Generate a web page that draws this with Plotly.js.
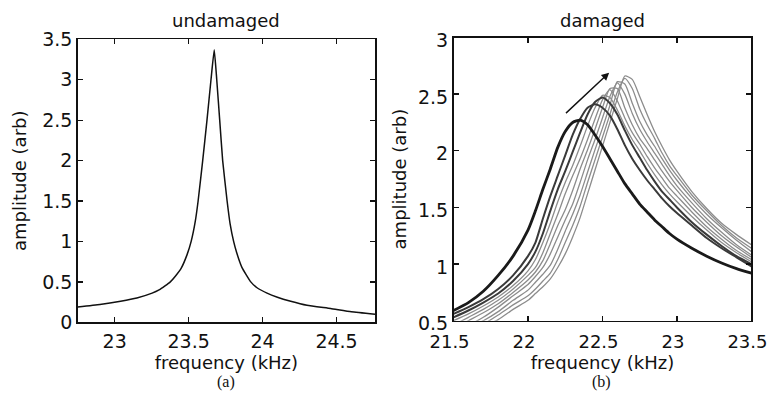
<!DOCTYPE html>
<html>
<head>
<meta charset="utf-8">
<script src="https://cdn.plot.ly/plotly-3.0.1.min.js"></script>
<style>html,body{margin:0;padding:0;background:#fff;}#chart{width:771px;height:402px;}</style>
</head>
<body>
<div id="chart"></div>
<script>
// ---- Panel (a): undamaged ----
const undamagedFreq = [22.75, 22.9, 23.04, 23.15, 23.253, 23.3, 23.34, 23.376, 23.41, 23.45, 23.49, 23.517, 23.545, 23.564, 23.595, 23.624, 23.651, 23.673, 23.69, 23.71, 23.73, 23.76, 23.78, 23.804, 23.825, 23.86, 23.92, 23.96, 24.03, 24.1, 24.19, 24.3, 24.46, 24.6, 24.76];
const undamagedAmp  = [0.19, 0.22, 0.26, 0.30, 0.36, 0.40, 0.45, 0.50, 0.57, 0.67, 0.84, 1.00, 1.25, 1.50, 2.00, 2.50, 3.00, 3.37, 3.00, 2.50, 2.00, 1.50, 1.22, 1.00, 0.86, 0.68, 0.50, 0.43, 0.36, 0.31, 0.26, 0.21, 0.17, 0.13, 0.10];

// ---- Panel (b): damaged (10 sweeps) ----
const damagedFreq = [21.5, 21.6, 21.7, 21.8, 21.9, 22.0, 22.05, 22.1, 22.15, 22.2, 22.25, 22.3, 22.35, 22.4, 22.45, 22.5, 22.55, 22.6, 22.65, 22.7, 22.75, 22.8, 22.85, 22.9, 22.95, 23.0, 23.1, 23.2, 23.3, 23.4, 23.5];
const sweep1  = [0.59, 0.66, 0.76, 0.90, 1.07, 1.30, 1.47, 1.66, 1.84, 2.03, 2.17, 2.25, 2.27, 2.23, 2.14, 2.04, 1.93, 1.82, 1.71, 1.62, 1.53, 1.46, 1.39, 1.33, 1.27, 1.22, 1.14, 1.07, 1.01, 0.96, 0.92];
const sweep2  = [0.56, 0.62, 0.69, 0.78, 0.90, 1.07, 1.19, 1.40, 1.60, 1.78, 1.96, 2.14, 2.28, 2.38, 2.41, 2.38, 2.31, 2.19, 2.05, 1.93, 1.83, 1.74, 1.66, 1.58, 1.51, 1.45, 1.34, 1.23, 1.14, 1.06, 0.98];
const sweep3  = [0.53, 0.59, 0.66, 0.74, 0.85, 1.00, 1.11, 1.27, 1.47, 1.66, 1.82, 1.99, 2.16, 2.32, 2.43, 2.47, 2.42, 2.32, 2.18, 2.05, 1.94, 1.83, 1.73, 1.64, 1.57, 1.50, 1.37, 1.26, 1.16, 1.07, 1.00];
const sweep4  = [0.50, 0.56, 0.63, 0.71, 0.81, 0.94, 1.04, 1.19, 1.36, 1.55, 1.72, 1.87, 2.04, 2.22, 2.38, 2.49, 2.47, 2.36, 2.22, 2.10, 2.00, 1.89, 1.79, 1.70, 1.62, 1.55, 1.42, 1.30, 1.19, 1.10, 1.02];
const sweep5  = [0.46, 0.53, 0.60, 0.68, 0.78, 0.90, 0.97, 1.10, 1.27, 1.44, 1.62, 1.78, 1.93, 2.10, 2.28, 2.45, 2.54, 2.44, 2.29, 2.16, 2.06, 1.95, 1.85, 1.76, 1.67, 1.60, 1.46, 1.33, 1.22, 1.12, 1.04];
const sweep6  = [0.43, 0.50, 0.57, 0.65, 0.75, 0.86, 0.93, 1.03, 1.18, 1.34, 1.48, 1.65, 1.84, 2.01, 2.19, 2.38, 2.55, 2.55, 2.38, 2.23, 2.11, 2.02, 1.92, 1.82, 1.73, 1.65, 1.50, 1.37, 1.25, 1.15, 1.06];
const sweep7  = [0.40, 0.46, 0.53, 0.62, 0.72, 0.82, 0.89, 0.97, 1.09, 1.24, 1.39, 1.53, 1.72, 1.92, 2.10, 2.29, 2.48, 2.60, 2.50, 2.33, 2.19, 2.08, 1.98, 1.88, 1.78, 1.69, 1.54, 1.40, 1.28, 1.17, 1.08];
const sweep8  = [0.38, 0.44, 0.50, 0.58, 0.68, 0.77, 0.84, 0.91, 0.99, 1.13, 1.29, 1.44, 1.61, 1.81, 2.01, 2.20, 2.40, 2.61, 2.59, 2.42, 2.26, 2.14, 2.04, 1.93, 1.83, 1.74, 1.58, 1.44, 1.32, 1.21, 1.11];
const sweep9  = [0.37, 0.42, 0.47, 0.55, 0.64, 0.72, 0.78, 0.85, 0.92, 1.04, 1.19, 1.34, 1.51, 1.72, 1.92, 2.12, 2.32, 2.52, 2.64, 2.55, 2.37, 2.23, 2.11, 1.98, 1.87, 1.78, 1.61, 1.47, 1.34, 1.23, 1.14];
const sweep10 = [0.35, 0.40, 0.45, 0.51, 0.60, 0.68, 0.74, 0.80, 0.87, 0.97, 1.09, 1.24, 1.41, 1.62, 1.83, 2.04, 2.25, 2.46, 2.66, 2.63, 2.48, 2.32, 2.17, 2.04, 1.92, 1.82, 1.64, 1.49, 1.36, 1.26, 1.17];
const sweeps = [sweep1, sweep2, sweep3, sweep4, sweep5, sweep6, sweep7, sweep8, sweep9, sweep10];

const xTicksA = [23, 23.5, 24, 24.5];
const yTicksA = [0, 0.5, 1, 1.5, 2, 2.5, 3, 3.5];
const xTicksB = [21.5, 22, 22.5, 23, 23.5];
const yTicksB = [0.5, 1, 1.5, 2, 2.5, 3];

const FONT = 'DejaVu Sans, Liberation Sans, Arial, sans-serif';
const SERIF = 'Liberation Serif, Times New Roman, serif';

const traces = [];
traces.push({x: undamagedFreq, y: undamagedAmp, xaxis: 'x', yaxis: 'y', mode: 'lines',
  line: {color: '#111', width: 1.5, shape: 'spline', smoothing: 0.4}, showlegend: false, hoverinfo: 'skip'});

const sweepStyles = sweeps.map((s, i) => {
  if (i === 0) return {color: '#1a1a1a', width: 2.8};
  if (i < 3) return {color: '#3a3a3a', width: 2.0};
  return {color: '#8c8c8c', width: 1.3};
});
const order = [9, 8, 7, 6, 5, 4, 3, 2, 1, 0];
order.forEach(i => {
  traces.push({x: damagedFreq, y: sweeps[i], xaxis: 'x2', yaxis: 'y2', mode: 'lines',
    line: Object.assign({shape: 'spline', smoothing: 0.6}, sweepStyles[i]),
    showlegend: false, hoverinfo: 'skip'});
});

function axisBase(extra) {
  return Object.assign({
    showline: true, linecolor: '#111', linewidth: 1.5, mirror: 'ticks',
    ticks: 'inside', ticklen: 5, tickwidth: 1.3, tickcolor: '#111',
    showgrid: false, zeroline: false, tickmode: 'array', ticklabeloverflow: 'allow',
    tickfont: {family: FONT, size: 19, color: '#111'}
  }, extra);
}
const titleFont = {family: FONT, size: 18, color: '#111'};

const layout = {
  width: 771, height: 402,
  margin: {l: 0, r: 0, t: 0, b: 0},
  paper_bgcolor: '#fff', plot_bgcolor: '#fff',
  font: {family: FONT, size: 18, color: '#111'},
  xaxis: axisBase({domain: [0.1008, 0.4864], range: [22.75, 24.76], anchor: 'y',
    tickvals: xTicksA, ticktext: xTicksA.map(String), ticklabelstandoff: 1,
    title: {text: 'frequency (kHz)', font: titleFont, standoff: 5}}),
  yaxis: axisBase({domain: [0.1983, 0.9022], range: [0, 3.5], anchor: 'x',
    tickvals: yTicksA, ticktext: yTicksA.map(String),
    title: {text: 'amplitude (arb)', font: titleFont, standoff: 11}}),
  xaxis2: axisBase({domain: [0.5882, 0.9746], range: [21.5, 23.5], anchor: 'y2',
    tickvals: xTicksB, ticktext: xTicksB.map(String), ticklabelstandoff: 4, ticklabelshift: -4,
    tickfont: {family: FONT, size: 18, color: '#111'},
    title: {text: 'frequency (kHz)', font: titleFont, standoff: 2}}),
  yaxis2: axisBase({domain: [0.2022, 0.9067], range: [0.5, 3], anchor: 'x2',
    tickvals: yTicksB, ticktext: yTicksB.map(String), ticklabelshift: 3,
    title: {text: 'amplitude (arb)', font: titleFont, standoff: 6}}),
  annotations: [
    {text: 'undamaged', xref: 'paper', yref: 'paper', x: 0.2927, y: 0.950, showarrow: false,
     xanchor: 'center', yanchor: 'middle', font: titleFont},
    {text: 'damaged', xref: 'paper', yref: 'paper', x: 0.7812, y: 0.950, showarrow: false,
     xanchor: 'center', yanchor: 'middle', font: titleFont},
    {text: '(a)', xref: 'paper', yref: 'paper', x: 0.2931, y: 0.0497, showarrow: false,
     xanchor: 'center', yanchor: 'middle', font: {family: SERIF, size: 16, color: '#111'}},
    {text: '(b)', xref: 'paper', yref: 'paper', x: 0.7808, y: 0.0497, showarrow: false,
     xanchor: 'center', yanchor: 'middle', font: {family: SERIF, size: 16, color: '#111'}},
    {text: '', xref: 'x2', yref: 'y2', x: 22.545, y: 2.69, axref: 'x2', ayref: 'y2', ax: 22.245, ay: 2.32,
     showarrow: true, arrowhead: 2, arrowsize: 1.1, arrowwidth: 1.4, arrowcolor: '#111'}
  ]
};

Plotly.newPlot('chart', traces, layout, {staticPlot: true, displayModeBar: false});
</script>
</body>
</html>
